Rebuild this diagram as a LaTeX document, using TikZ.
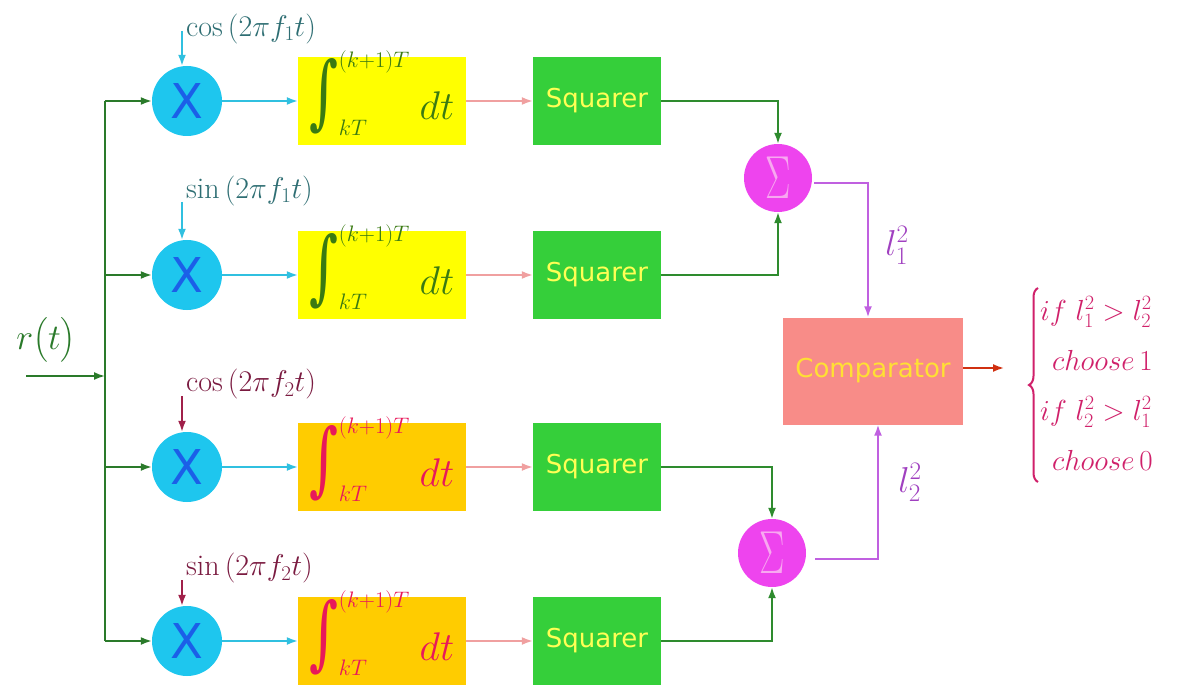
\RequirePackage{fix-cm}
\documentclass[tikz,border=0pt]{standalone}
\usepackage{exscale}
\usepackage{fontspec}
\usetikzlibrary{arrows.meta,calc,decorations.pathreplacing}
\newfontfamily\sansf{DejaVu Sans}
\newfontfamily\intfont{DejaVu Serif}
\definecolor{cyancirc}{HTML}{1EC6EE}
\definecolor{xblue}{HTML}{1B5FE8}
\definecolor{sumc}{HTML}{EE44EE}
\definecolor{sigmac}{HTML}{F8A8F0}
\definecolor{yel}{HTML}{FFFF00}
\definecolor{orng}{HTML}{FFCC00}
\definecolor{intg}{HTML}{3A7A12}
\definecolor{intr}{HTML}{E8185A}
\definecolor{sqc}{HTML}{35CF3A}
\definecolor{sqtext}{HTML}{FFFF55}
\definecolor{compc}{HTML}{F88C88}
\definecolor{comptext}{HTML}{FFE033}
\definecolor{busc}{HTML}{2A7A2A}
\definecolor{cyanar}{HTML}{30C0E0}
\definecolor{pinkar}{HTML}{F0A0A0}
\definecolor{sqline}{HTML}{2E8B2E}
\definecolor{violetar}{HTML}{C060E0}
\definecolor{outar}{HTML}{D03010}
\definecolor{fonec}{HTML}{2E6E73}
\definecolor{ftwoc}{HTML}{7A1A40}
\definecolor{ftwoar}{HTML}{A0204A}
\definecolor{lc}{HTML}{A040C0}
\definecolor{decc}{HTML}{D0206A}
\newcommand{\myint}{\raisebox{0pt}[40pt][2pt]{{\fontsize{32}{36}\selectfont$\displaystyle\mathop{\hbox{\scalebox{0.9}[1.3]{\intfont\fontsize{62}{62}\selectfont ∫}}}\nolimits_{kT}^{(k+1)T}$}\hspace{10pt}{\fontsize{40}{44}\selectfont$dt$}}}
\newcommand{\mysigma}{\scalebox{1}[1.6]{$\Sigma$}}
\begin{document}
\begin{tikzpicture}[x=1pt,y=-1pt,
 ar/.style={line width=1.8pt,-{Latex[length=11pt,width=8pt]}},
 mult/.style={circle,fill=cyancirc,minimum size=70pt,inner sep=0pt,text=xblue,font=\sansf\fontsize{48}{48}\selectfont},
 summ/.style={circle,fill=sumc,minimum size=68pt,inner sep=0pt,text=sigmac,font=\fontsize{38}{38}\selectfont},
 intbox/.style={minimum width=168pt,minimum height=88pt,inner sep=0pt},
 sqbox/.style={fill=sqc,minimum width=128pt,minimum height=88pt,inner sep=0pt,text=sqtext,font=\sansf\fontsize{26}{26}\selectfont},
 carlab/.style={anchor=west,inner sep=0pt,font=\fontsize{30}{32}\selectfont},
 biglab/.style={inner sep=0pt,font=\fontsize{36}{40}\selectfont},
 declab/.style={anchor=west,inner sep=0pt,text=decc,font=\fontsize{29}{32}\selectfont}]
\useasboundingbox[fill=white] (0,0) rectangle (1178,687);
% multipliers
\node[mult] (m1) at (187,101) {X};
\node[mult] (m2) at (187,275) {X};
\node[mult] (m3) at (187,467) {X};
\node[mult] (m4) at (187,641) {X};
% integrators
\node[intbox,fill=yel,text=intg] (i1) at (382,101) {\myint};
\node[intbox,fill=yel,text=intg] (i2) at (382,275) {\myint};
\node[intbox,fill=orng,text=intr] (i3) at (382,467) {\myint};
\node[intbox,fill=orng,text=intr] (i4) at (382,641) {\myint};
% squarers
\node[sqbox] (q1) at (597,101) {Squarer};
\node[sqbox] (q2) at (597,275) {Squarer};
\node[sqbox] (q3) at (597,467) {Squarer};
\node[sqbox] (q4) at (597,641) {Squarer};
% sums
\node[summ] (s1) at (778,178) {\mysigma};
\node[summ] (s2) at (772,553) {\mysigma};
% comparator
\node[fill=compc,minimum width=180pt,minimum height=107pt,inner sep=0pt,text=comptext,font=\sansf\fontsize{26}{26}\selectfont] (cmp) at (873,371) {Comparator};
% input
\node[biglab,text=busc] (rt) at (46,340) {$r\bigl(t\bigr)$};
\coordinate (rin) at (26,376);
\coordinate (bus) at (105,376);
\coordinate (b1) at (105,101);
\coordinate (b4) at (105,641);
\draw[ar,busc] (rin) -- (bus);
\draw[busc,line width=1.8pt] (b1) -- (b4);
\foreach \k in {1,2,3,4}{
  \draw[ar,busc] (m\k.west -| bus) -- (m\k.west);
  \draw[ar,cyanar] (m\k.east) -- (i\k.west);
  \draw[ar,pinkar] (i\k.east) -- (q\k.west);
}
% carrier labels
\node[carlab,text=fonec] (c1lab) at (186,29) {$\cos\left(2\pi f_1t\right)$};
\node[carlab,text=fonec] (c2lab) at (186,191) {$\sin\left(2\pi f_1t\right)$};
\node[carlab,text=ftwoc] (c3lab) at (186,384) {$\cos\left(2\pi f_2t\right)$};
\node[carlab,text=ftwoc] (c4lab) at (186,568) {$\sin\left(2\pi f_2t\right)$};
\coordinate (c1) at (182,31);
\coordinate (c2) at (182,202);
\coordinate (c3) at (182,396);
\coordinate (c4) at (182,580);
\draw[ar,cyanar] (c1) -- (c1 |- m1.north);
\draw[ar,cyanar] (c2) -- (c2 |- m2.north);
\draw[ar,ftwoar] (c3) -- (c3 |- m3.north);
\draw[ar,ftwoar] (c4) -- (c4 |- m4.north);
% squarers to sums
\draw[ar,sqline] (q1.east) -| (s1.north);
\draw[ar,sqline] (q2.east) -| (s1.south);
\draw[ar,sqline] (q3.east) -| (s2.north);
\draw[ar,sqline] (q4.east) -| (s2.south);
% sums to comparator
\draw[ar,violetar] ($(s1.east)+(2,5)$) -| ($(cmp.north)+(-5,0)$);
\draw[ar,violetar] ($(s2.east)+(9,6)$) -| ($(cmp.south)+(5,0)$);
\node[biglab,text=lc] (l1lab) at (897,245) {$l_1^2$};
\node[biglab,text=lc] (l2lab) at (910,482) {$l_2^2$};
% output
\coordinate (oe) at (1004,368);
\draw[ar,outar] (cmp.east |- oe) -- (oe);
\coordinate (brb) at (1038,482);
\coordinate (brt) at (1038,288);
\draw[decc,line width=2pt,decorate,decoration={brace,amplitude=9pt,aspect=0.5}] (brb) -- (brt);
\node[declab] (d1) at (1040,312) {$if\ l_1^2>l_2^2$};
\node[declab] (d2) at (1052,360) {$choose\,1$};
\node[declab] (d3) at (1040,412) {$if\ l_2^2>l_1^2$};
\node[declab] (d4) at (1052,460) {$choose\,0$};
\end{tikzpicture}
\end{document}
